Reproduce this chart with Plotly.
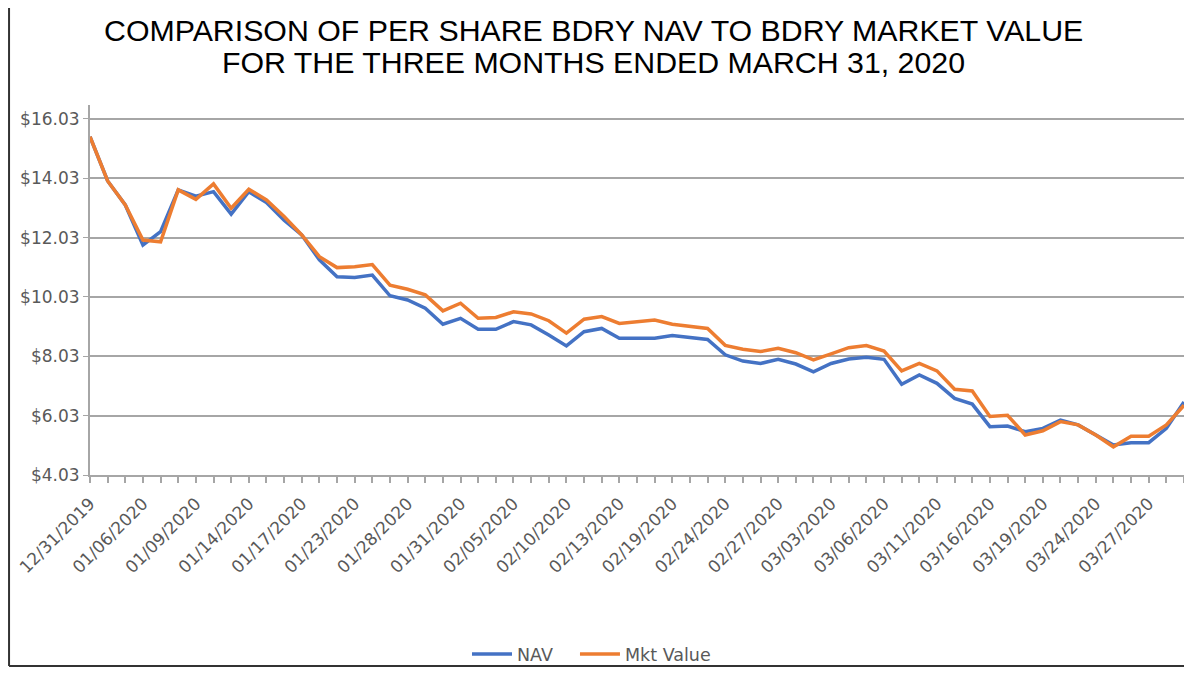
import plotly.graph_objects as go

# trading days, 12/31/2019 - 03/31/2020
dates = ["12/31/2019",
         "01/02/2020", "01/03/2020", "01/06/2020", "01/07/2020", "01/08/2020", "01/09/2020", "01/10/2020",
         "01/13/2020", "01/14/2020", "01/15/2020", "01/16/2020", "01/17/2020", "01/21/2020", "01/22/2020",
         "01/23/2020", "01/24/2020", "01/27/2020", "01/28/2020", "01/29/2020", "01/30/2020", "01/31/2020",
         "02/03/2020", "02/04/2020", "02/05/2020", "02/06/2020", "02/07/2020", "02/10/2020", "02/11/2020",
         "02/12/2020", "02/13/2020", "02/14/2020", "02/18/2020", "02/19/2020", "02/20/2020", "02/21/2020",
         "02/24/2020", "02/25/2020", "02/26/2020", "02/27/2020", "02/28/2020", "03/02/2020", "03/03/2020",
         "03/04/2020", "03/05/2020", "03/06/2020", "03/09/2020", "03/10/2020", "03/11/2020", "03/12/2020",
         "03/13/2020", "03/16/2020", "03/17/2020", "03/18/2020", "03/19/2020", "03/20/2020", "03/23/2020",
         "03/24/2020", "03/25/2020", "03/26/2020", "03/27/2020", "03/30/2020", "03/31/2020"]

nav = [15.43, 13.94, 13.13, 11.78, 12.23, 13.64, 13.43, 13.58, 12.82, 13.58, 13.21, 12.62, 12.12,
       11.28, 10.71, 10.69, 10.77, 10.07, 9.93, 9.65, 9.11, 9.31, 8.94, 8.94, 9.20,
       9.09, 8.75, 8.38, 8.86, 8.97, 8.64, 8.64, 8.64, 8.73, 8.67, 8.60, 8.08,
       7.87, 7.79, 7.93, 7.77, 7.51, 7.79, 7.94, 8.00, 7.93, 7.09, 7.40, 7.12,
       6.61, 6.42, 5.66, 5.68, 5.49, 5.60, 5.88, 5.72, 5.38, 5.04, 5.12, 5.12, 5.60, 6.49]

mkt_value = [15.43, 13.94, 13.13, 11.95, 11.89, 13.64, 13.32, 13.84, 13.02, 13.66, 13.30, 12.74, 12.12,
             11.39, 11.02, 11.05, 11.12, 10.43, 10.29, 10.10, 9.56, 9.82, 9.31, 9.34, 9.53,
             9.46, 9.23, 8.81, 9.28, 9.37, 9.14, 9.20, 9.25, 9.11, 9.05, 8.97, 8.40,
             8.27, 8.19, 8.30, 8.15, 7.91, 8.11, 8.32, 8.39, 8.21, 7.54, 7.79, 7.54,
             6.92, 6.86, 6.00, 6.04, 5.38, 5.52, 5.83, 5.72, 5.38, 4.98, 5.34, 5.34, 5.72, 6.38]

y_ticks = [4.03, 6.03, 8.03, 10.03, 12.03, 14.03, 16.03]

title_lines = ["COMPARISON OF PER SHARE BDRY NAV TO BDRY MARKET VALUE",
               "FOR THE THREE MONTHS ENDED MARCH 31, 2020"]

x = list(range(len(dates)))
label_step = 3

fig = go.Figure()
fig.add_trace(go.Scatter(x=x, y=nav, name="NAV", mode="lines", legend="legend",
                         line=dict(color="#4472C4", width=3.5), customdata=dates))
fig.add_trace(go.Scatter(x=x, y=mkt_value, name="Mkt Value", mode="lines", legend="legend2",
                         line=dict(color="#ED7D31", width=3.5), customdata=dates))

tick_font = dict(family="DejaVu Sans", size=17, color="#595959")
legend_font = dict(family="DejaVu Sans", size=17.5, color="#595959")

# page body keeps its 8px margin, so the figure is sized to fit inside the window
fig.update_layout(
    width=1176, height=659,
    paper_bgcolor="white", plot_bgcolor="white",
    margin=dict(l=82, r=0, t=97, b=192, autoexpand=False),
    showlegend=True,
    legend=dict(orientation="h", x=0.3446, xanchor="left", y=-0.484, yanchor="middle",
                font=legend_font, itemwidth=40, bgcolor="rgba(0,0,0,0)"),
    legend2=dict(orientation="h", x=0.4433, xanchor="left", y=-0.484, yanchor="middle",
                 font=legend_font, itemwidth=40, bgcolor="rgba(0,0,0,0)"),
)

for line_text, ypos in zip(title_lines, [1.2027, 1.1162]):
    fig.add_annotation(text=line_text, xref="paper", yref="paper", x=0.4598, y=ypos,
                       xanchor="center", yanchor="middle", showarrow=False,
                       font=dict(family="Liberation Sans, Arial", size=30.3, color="black"))

fig.update_xaxes(range=[0, len(dates) - 1], showgrid=False, zeroline=False, automargin=False,
                 showline=True, linecolor="#a6a6a6", linewidth=2,
                 tickmode="array", tickvals=x[::label_step], ticktext=dates[::label_step],
                 tickangle=-45, ticks="outside", ticklen=6, tickcolor="#a6a6a6", tickwidth=1.5,
                 ticklabelstandoff=4,
                 minor=dict(dtick=1, tick0=0, ticks="outside", ticklen=6, tickcolor="#a6a6a6",
                            tickwidth=1.5, showgrid=False),
                 tickfont=tick_font)

fig.update_yaxes(range=[4.03, 16.5], zeroline=False, automargin=False,
                 showline=True, linecolor="#a6a6a6", linewidth=2,
                 tickmode="array", tickvals=y_ticks, ticktext=["$%.2f" % v for v in y_ticks],
                 ticks="outside", ticklen=5, tickcolor="#a6a6a6",
                 showgrid=True, gridcolor="#a6a6a6", gridwidth=1.5,
                 tickfont=tick_font)

# frame lines of the original picture
fig.add_shape(type="line", xref="paper", yref="paper", x0=-0.074, x1=-0.074, y0=-0.516, y1=1.27,
              line=dict(color="#333333", width=2))
fig.add_shape(type="line", xref="paper", yref="paper", x0=-0.074, x1=1.01, y0=-0.516, y1=-0.516,
              line=dict(color="#333333", width=2))

fig.write_html("out.html")
